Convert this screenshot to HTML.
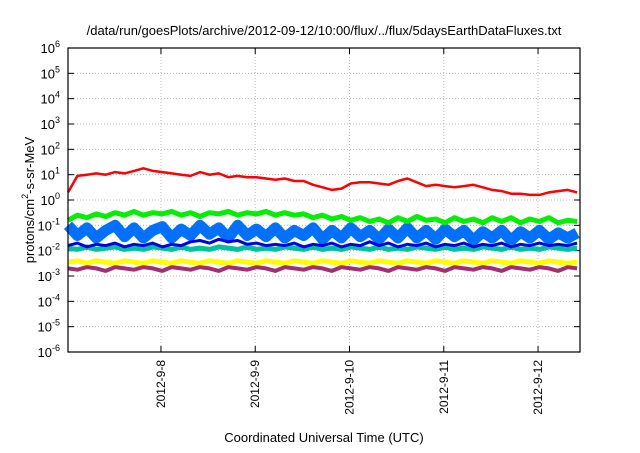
<!DOCTYPE html>
<html><head><meta charset="utf-8"><style>
body{margin:0;background:#fff;font-family:"Liberation Sans",sans-serif}
</style></head><body>
<svg id="c" width="640" height="448" xmlns="http://www.w3.org/2000/svg" font-family="Liberation Sans, sans-serif"></svg>
<script>
const xTickLabels=["2012-9-8","2012-9-9","2012-9-10","2012-9-11","2012-9-12"];
const xTickDays=[1,2,3,4,5];
const yTickExps=[6,5,4,3,2,1,0,-1,-2,-3,-4,-5,-6];
const seriesNames=["red","green","lightblue","darkblue","teal","yellow","purple"];
const seriesColors=["#ff0000","#00ee00","#0070ff","#0000e0","#00c0a0","#ffff00","#a03070"];
const red=[0.3,0.95,1.0,1.05,1.0,1.1,1.05,1.15,1.25,1.15,1.1,1.05,1.0,0.95,1.1,1.0,1.05,0.9,0.95,0.9,0.9,0.85,0.8,0.85,0.75,0.75,0.6,0.5,0.4,0.45,0.65,0.7,0.7,0.65,0.6,0.75,0.85,0.7,0.55,0.6,0.55,0.5,0.55,0.6,0.5,0.4,0.35,0.25,0.25,0.2,0.2,0.3,0.35,0.4,0.3];
const green=[-0.8,-0.6,-0.7,-0.55,-0.65,-0.5,-0.6,-0.45,-0.6,-0.5,-0.55,-0.45,-0.6,-0.5,-0.65,-0.5,-0.55,-0.45,-0.6,-0.5,-0.55,-0.45,-0.6,-0.5,-0.6,-0.55,-0.7,-0.6,-0.75,-0.65,-0.8,-0.7,-0.85,-0.75,-0.9,-0.7,-0.85,-0.65,-0.8,-0.75,-0.9,-0.7,-0.85,-0.75,-0.9,-0.7,-0.85,-0.7,-0.9,-0.75,-0.85,-0.7,-0.9,-0.8,-0.85];
const lightblue=[-1.0,-1.4,-1.1,-1.5,-1.2,-1.0,-1.45,-1.1,-1.5,-1.2,-1.05,-1.5,-1.15,-1.4,-1.0,-1.35,-1.1,-1.5,-1.0,-1.4,-1.15,-1.45,-1.1,-1.5,-1.2,-1.4,-1.1,-1.55,-1.2,-1.5,-1.1,-1.45,-1.2,-1.55,-1.15,-1.5,-1.1,-1.5,-1.2,-1.55,-1.15,-1.45,-1.2,-1.6,-1.25,-1.5,-1.2,-1.6,-1.25,-1.5,-1.2,-1.55,-1.3,-1.5,-1.3];
const darkblue=[-1.8,-1.7,-1.85,-1.75,-1.8,-1.7,-1.85,-1.75,-1.8,-1.7,-1.85,-1.75,-1.8,-1.65,-1.6,-1.7,-1.55,-1.65,-1.6,-1.75,-1.7,-1.8,-1.75,-1.8,-1.7,-1.85,-1.75,-1.8,-1.7,-1.85,-1.75,-1.8,-1.65,-1.8,-1.7,-1.85,-1.75,-1.8,-1.7,-1.85,-1.75,-1.8,-1.7,-1.85,-1.75,-1.8,-1.7,-1.85,-1.75,-1.8,-1.7,-1.8,-1.75,-1.8,-1.7];
const teal=[-1.9,-1.95,-1.85,-1.95,-1.9,-1.85,-1.95,-1.9,-1.95,-1.85,-1.9,-1.95,-1.85,-1.95,-1.9,-1.95,-1.85,-1.9,-1.95,-1.85,-1.95,-1.9,-1.95,-1.85,-1.9,-1.95,-1.85,-1.95,-1.9,-1.95,-1.85,-1.9,-1.95,-1.85,-1.95,-1.9,-1.95,-1.85,-1.9,-1.95,-1.85,-1.95,-1.9,-1.95,-1.85,-1.9,-1.95,-1.85,-1.95,-1.9,-1.95,-1.85,-1.9,-1.95,-1.9];
const yellow=[-2.45,-2.4,-2.5,-2.4,-2.45,-2.5,-2.4,-2.45,-2.5,-2.4,-2.45,-2.5,-2.4,-2.45,-2.5,-2.4,-2.45,-2.5,-2.4,-2.45,-2.5,-2.4,-2.45,-2.5,-2.4,-2.45,-2.5,-2.4,-2.45,-2.5,-2.4,-2.45,-2.5,-2.4,-2.45,-2.5,-2.4,-2.45,-2.5,-2.4,-2.45,-2.5,-2.4,-2.45,-2.5,-2.4,-2.45,-2.5,-2.4,-2.45,-2.5,-2.4,-2.45,-2.5,-2.45];
const purple=[-2.7,-2.75,-2.65,-2.7,-2.8,-2.65,-2.7,-2.75,-2.65,-2.7,-2.8,-2.65,-2.7,-2.75,-2.65,-2.7,-2.8,-2.65,-2.7,-2.75,-2.65,-2.7,-2.8,-2.65,-2.7,-2.75,-2.65,-2.7,-2.8,-2.65,-2.7,-2.75,-2.65,-2.7,-2.8,-2.65,-2.7,-2.75,-2.65,-2.7,-2.8,-2.65,-2.7,-2.75,-2.65,-2.7,-2.8,-2.65,-2.7,-2.75,-2.65,-2.7,-2.8,-2.65,-2.7];
const allSeries=[red,green,lightblue,darkblue,teal,yellow,purple];
const seriesWidths=[2.5,5,11,3,5,5,4];
const drawOrder=[2,4,3,5,1,6,0];
const L=68,R=580,T=48,B=352,D0=0.014,D1=5.445,step=0.1;
const svg=document.getElementById('c');const NS='http://www.w3.org/2000/svg';
function X(d){return L+(d-D0)/(D1-D0)*(R-L);}
function Y(e){return T+(6-e)/12*(B-T);}
function mk(t,a,p){const e=document.createElementNS(NS,t);for(const k in a)e.setAttribute(k,a[k]);(p||svg).appendChild(e);return e;}
yTickExps.forEach(e=>{const y=Y(e);
 if(e<6&&e>-6){const g=mk('line',{x1:L,x2:R,y1:y,y2:y,stroke:'#bbb','stroke-dasharray':'1,2'});}
 const t1=mk('line',{x1:L,x2:L+6,y1:y,y2:y,stroke:'#000'});
 const t2=mk('line',{x1:R-6,x2:R,y1:y,y2:y,stroke:'#000'});
 const tx=mk('text',{x:L-8,y:y+5,'text-anchor':'end','font-size':'13'});
 tx.textContent='10';const s=mk('tspan',{dy:'-6','font-size':'9'},tx);s.textContent=String(e);
});
xTickDays.forEach((d,i)=>{const x=X(d);
 const g=mk('line',{x1:x,x2:x,y1:T,y2:B,stroke:'#bbb','stroke-dasharray':'1,2'});
 const t1=mk('line',{x1:x,x2:x,y1:B-6,y2:B,stroke:'#000'});
 const t2=mk('line',{x1:x,x2:x,y1:T,y2:T+6,stroke:'#000'});
 const tx=mk('text',{x:0,y:0,'text-anchor':'end','font-size':'12',transform:`translate(${x+4},${B+8}) rotate(-90)`});tx.textContent=xTickLabels[i];
});
drawOrder.forEach(si=>{const arr=allSeries[si];
 const pts=arr.map((v,i)=>X(Math.min(D0+i*step,D1)).toFixed(1)+','+Y(v).toFixed(1)).join(' ');
 const p=mk('polyline',{points:pts,fill:'none',stroke:seriesColors[si],'stroke-width':String(seriesWidths[si]),'stroke-linejoin':'round'});
 });
const fr=mk('rect',{x:L,y:T,width:R-L,height:B-T,fill:'none',stroke:'#000','stroke-width':'1.2'});

const ti=mk('text',{x:324,y:35,'text-anchor':'middle','font-size':'13'});ti.textContent='/data/run/goesPlots/archive/2012-09-12/10:00/flux/../flux/5daysEarthDataFluxes.txt';
const xt=mk('text',{x:324,y:442,'text-anchor':'middle','font-size':'13'});xt.textContent='Coordinated Universal Time (UTC)';
const yt=mk('text',{x:0,y:0,'text-anchor':'middle','font-size':'13',transform:'translate(34,200) rotate(-90)'});
yt.textContent='protons/cm';const sp=mk('tspan',{dy:'-6','font-size':'9'},yt);sp.textContent='2';const sp2=mk('tspan',{dy:'6'},yt);sp2.textContent='-s-sr-MeV';
</script>
</body></html>
